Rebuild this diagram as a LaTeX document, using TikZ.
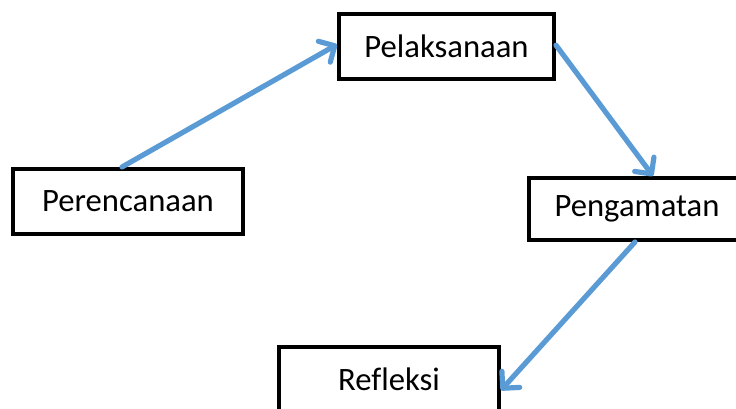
\documentclass[tikz,border=0pt]{standalone}
\usepackage{fontspec}
\setmainfont[Ligatures=NoCommon]{Carlito}
\usetikzlibrary{arrows.meta}
\definecolor{arrowblue}{RGB}{91,155,213}
\tikzset{
  stagebox/.style={draw=black, line width=3pt, fill=white, font=\fontsize{24.5}{28}\selectfont, inner sep=0pt},
  flowarrow/.style={draw=arrowblue, line width=3.9pt, line cap=round,
    -{Straight Barb[length=9pt, width=18pt, round]}}
}
\begin{document}
\begin{tikzpicture}[x=0.75pt, y=-0.75pt]
\useasboundingbox (0,0) rectangle (736,408);
\node[stagebox, minimum width=172.5pt, minimum height=48.75pt] (per) at (128,201.5) {Perencanaan};
\node[stagebox, minimum width=161.25pt, minimum height=48.75pt] (pel) at (446.5,46.5) {Pelaksanaan};
\node[stagebox, minimum width=162pt, minimum height=46.5pt] (peng) at (637,209) {Pengamatan};
\node[stagebox, minimum width=165pt, minimum height=48.75pt] (ref) at (389,379.5) {Refleksi};
\draw[flowarrow] ([xshift=-4.5pt]per.north) -- ([yshift=1.5pt]pel.west);
\draw[flowarrow] ([yshift=1pt]pel.east) -- ([xshift=12pt]peng.north);
\draw[flowarrow] ([xshift=-1.5pt]peng.south) -- ([yshift=-8pt]ref.east);
\end{tikzpicture}
\end{document}
